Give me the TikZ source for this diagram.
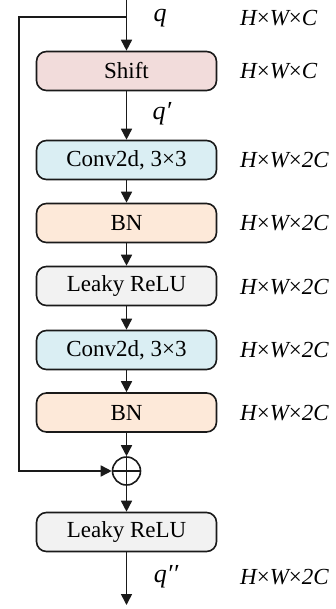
\documentclass[tikz,border=0pt]{standalone}
\usepackage{fontspec}
\setmainfont{Liberation Serif}
\usetikzlibrary{arrows.meta}
\definecolor{shiftc}{HTML}{F2DCDB}
\definecolor{convc}{HTML}{DAEEF3}
\definecolor{bnc}{HTML}{FDE9D9}
\definecolor{reluc}{HTML}{F2F2F2}
\definecolor{linec}{HTML}{1A1A1A}
\tikzset{
  blk/.style={draw=linec, line width=1.6pt, rounded corners=10pt, minimum width=180pt, minimum height=39pt, font=\fontsize{23}{26}\selectfont, inner sep=0pt},
  arr/.style={line width=1.6pt, draw=linec, -{Triangle[length=11pt,width=11pt]}},
  dim/.style={anchor=west, font=\fontsize{23}{26}\selectfont\itshape, inner sep=0pt},
  qlab/.style={font=\fontsize{26}{29}\selectfont\itshape, inner sep=0pt},
  plus/.style={draw=linec, line width=1.6pt, circle, minimum size=28pt, inner sep=0pt,
    path picture={\draw[line width=1.6pt, linec] (path picture bounding box.north) -- (path picture bounding box.south) (path picture bounding box.west) -- (path picture bounding box.east);}}
}
\begin{document}
\begin{tikzpicture}[x=1pt,y=-1pt]
\useasboundingbox (0,0) rectangle (335,609);
\node[blk, fill=shiftc] (shift) at (126.5,71) {Shift};
\node[blk, fill=convc] (conv1) at (126.5,160) {Conv2d, 3×3};
\node[blk, fill=bnc] (bn1) at (126.5,223) {BN};
\node[blk, fill=reluc] (relu1) at (126.5,286) {Leaky ReLU};
\node[blk, fill=convc] (conv2) at (126.5,350) {Conv2d, 3×3};
\node[blk, fill=bnc] (bn2) at (126.5,412.5) {BN};
\node[plus] (add) at (126.5,471) {};
\node[blk, fill=reluc] (relu2) at (126.5,532) {Leaky ReLU};
\coordinate (top) at (126.5,0);
\coordinate (split) at (126.5,17);
\coordinate (corner1) at (19,17);
\coordinate (corner2) at (19,471);
\coordinate (bottom) at (126.5,605);
\draw[arr] (top) -- (shift);
\draw[arr] (split) -- (corner1) -- (corner2) -- (add);
\draw[arr] (shift) -- (conv1);
\draw[arr] (conv1) -- (bn1);
\draw[arr] (bn1) -- (relu1);
\draw[arr] (relu1) -- (conv2);
\draw[arr] (conv2) -- (bn2);
\draw[arr] (bn2) -- (add);
\draw[arr] (add) -- (relu2);
\draw[arr] (relu2) -- (bottom);
\node[qlab] (q) at (160,18) {q};
\node[qlab] (q1) at (162,114) {q′};
\node[qlab] (q2) at (166,577) {q′′};
\node[dim] (d0) at (240,18) {H\upshape×\itshape W\upshape×\itshape C};
\node[dim] (d1) at (240,71) {H\upshape×\itshape W\upshape×\itshape C};
\node[dim] (d2) at (240,160) {H\upshape×\itshape W\upshape×\itshape 2C};
\node[dim] (d3) at (240,223) {H\upshape×\itshape W\upshape×\itshape 2C};
\node[dim] (d4) at (240,287) {H\upshape×\itshape W\upshape×\itshape 2C};
\node[dim] (d5) at (240,350) {H\upshape×\itshape W\upshape×\itshape 2C};
\node[dim] (d6) at (240,413) {H\upshape×\itshape W\upshape×\itshape 2C};
\node[dim] (d7) at (240,577) {H\upshape×\itshape W\upshape×\itshape 2C};
\end{tikzpicture}
\end{document}
